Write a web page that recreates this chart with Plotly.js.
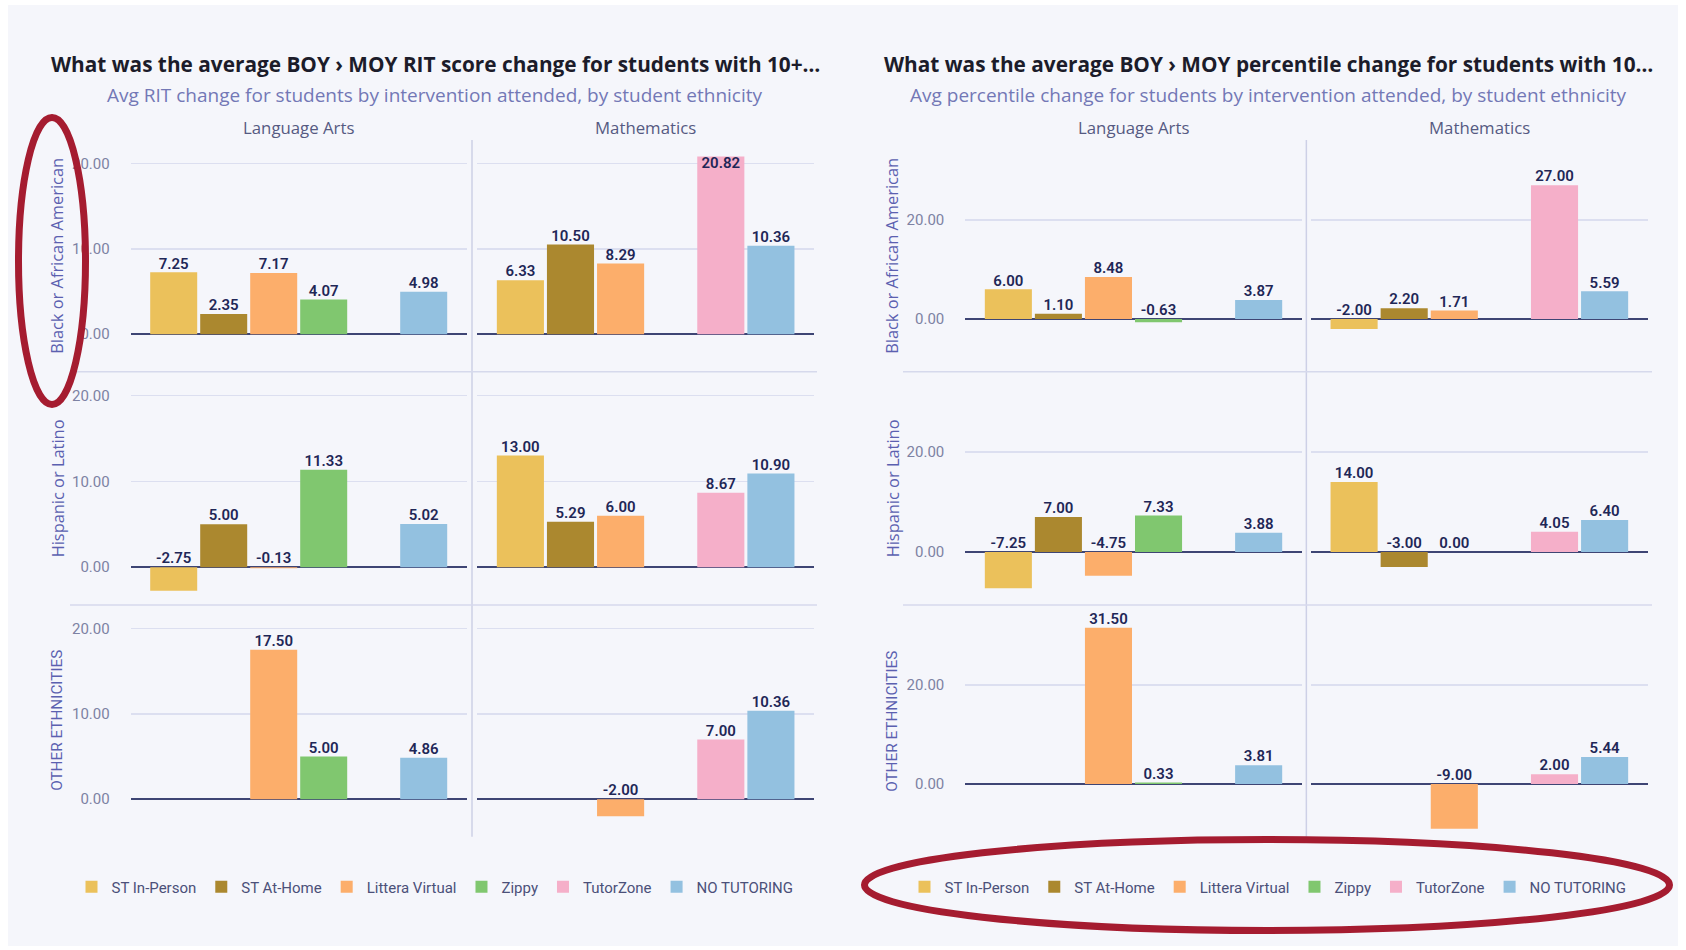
<!DOCTYPE html>
<html><head><meta charset="utf-8">
<script src="https://cdn.plot.ly/plotly-3.0.1.min.js"></script>
<style>html,body{margin:0;padding:0;background:#fff;}#chart{width:1686px;height:950px;}</style>
</head><body><div id="chart"></div>
<script>
// ---------- data ----------
const interventions = ['ST In-Person','ST At-Home','Littera Virtual','Zippy','TutorZone','NO TUTORING'];
const barColors = ['#EBC15B','#AB882F','#FCAE6B','#80C76F','#F5AFC9','#93C1E0'];
const subjects = ['Language Arts','Mathematics'];
const ethnicities = ['Black or African American','Hispanic or Latino','OTHER ETHNICITIES'];

const chartTitles = ['What was the average BOY \u203A MOY RIT score change for students with 10+\u2026',
                     'What was the average BOY \u203A MOY percentile change for students with 10\u2026'];
const chartSubtitles = ['Avg RIT change for students by intervention attended, by student ethnicity',
                        'Avg percentile change for students by intervention attended, by student ethnicity'];

// Avg RIT change
const ritLangBlack    = [7.25, 2.35, 7.17, 4.07, null, 4.98];
const ritLangHispanic = [-2.75, 5.00, -0.13, 11.33, null, 5.02];
const ritLangOther    = [null, null, 17.50, 5.00, null, 4.86];
const ritMathBlack    = [6.33, 10.50, 8.29, null, 20.82, 10.36];
const ritMathHispanic = [13.00, 5.29, 6.00, null, 8.67, 10.90];
const ritMathOther    = [null, null, -2.00, null, 7.00, 10.36];

// Avg percentile change
const pctLangBlack    = [6.00, 1.10, 8.48, -0.63, null, 3.87];
const pctLangHispanic = [-7.25, 7.00, -4.75, 7.33, null, 3.88];
const pctLangOther    = [null, null, 31.50, 0.33, null, 3.81];
const pctMathBlack    = [-2.00, 2.20, 1.71, null, 27.00, 5.59];
const pctMathHispanic = [14.00, -3.00, 0.00, null, 4.05, 6.40];
const pctMathOther    = [null, null, -9.00, null, 2.00, 5.44];

const chartData = [
  [[ritLangBlack, ritMathBlack], [ritLangHispanic, ritMathHispanic], [ritLangOther, ritMathOther]],
  [[pctLangBlack, pctMathBlack], [pctLangHispanic, pctMathHispanic], [pctLangOther, pctMathOther]]
];

// ---------- layout geometry (pixels) ----------
const W = 1686, H = 950;
const px = p => p / W;
const py = p => 1 - p / H;
const colPx = [[[130.7,466.7],[477.3,814]], [[965.3,1301.7],[1311,1647.7]]];
const rowPx = [[140,371.7],[371.7,605],[605,836.7]];
const yRanges = [[-4.4, 22.75], [-10.6, 36.1]];
const yDticks = [10, 20];
const cardCenter = [435, 1268];
const rowTitleX = [57, 892];

const navy = '#1F2757';
const traces = [];
const layout = {
  width: W, height: H,
  margin: {l:0, r:0, t:0, b:0},
  paper_bgcolor: '#ffffff',
  plot_bgcolor: 'rgba(0,0,0,0)',
  barmode: 'overlay',
  showlegend: true,
  hovermode: false,
  annotations: [], shapes: []
};

for (let c = 0; c < 2; c++) {
  const legendShown = new Array(6).fill(false);
  for (let r = 0; r < 3; r++) {
    for (let s = 0; s < 2; s++) {
      const k = c*6 + r*2 + s + 1;
      const xa = k === 1 ? 'x' : 'x' + k;
      const ya = k === 1 ? 'y' : 'y' + k;
      const vals = chartData[c][r][s];
      const [y0, y1] = yRanges[c];
      for (let i = 0; i < 6; i++) {
        const show = !legendShown[i] && vals[i] !== null;
        if (show) legendShown[i] = true;
        traces.push({
          type: 'bar', x: [interventions[i]], y: [vals[i]],
          xaxis: xa, yaxis: ya, width: [0.94],
          name: interventions[i], marker: {color: barColors[i], line: {width: 0}},
          legend: c === 0 ? 'legend' : 'legend2',
          legendgroup: 'g' + c + '-' + i, legendrank: i + 1,
          showlegend: show
        });
      }
      traces.push({
        type: 'scatter', mode: 'text', xaxis: xa, yaxis: ya,
        x: interventions,
        y: vals.map(v => v === null ? null : Math.max(v, 0)),
        text: vals.map(v => v === null ? '' : v.toFixed(2)),
        textposition: vals.map(v => (v !== null && (y1 - v) / (y1 - y0) < 0.09) ? 'bottom center' : 'top center'),
        textfont: {family: 'Roboto', size: 15, color: navy, weight: 600},
        cliponaxis: false, showlegend: false, hoverinfo: 'skip'
      });
      const xd = colPx[c][s], yd = rowPx[r];
      layout['xaxis' + (k === 1 ? '' : k)] = {
        domain: [px(xd[0]), px(xd[1])], anchor: ya,
        type: 'category', categoryorder: 'array', categoryarray: interventions,
        range: [-0.86, 5.86], showticklabels: false, showgrid: false,
        zeroline: false, showline: false, ticks: '', fixedrange: true
      };
      layout['yaxis' + (k === 1 ? '' : k)] = {
        domain: [py(yd[1]), py(yd[0])], anchor: xa,
        range: yRanges[c], dtick: yDticks[c], tick0: 0, tickformat: '.2f',
        showgrid: true, gridcolor: '#DCDFF0', gridwidth: 1.5,
        zeroline: true, zerolinecolor: '#3E4574', zerolinewidth: 2,
        showline: false, ticks: '', showticklabels: s === 0,
        ticklabelstandoff: 20,
        tickfont: {family: 'Roboto', size: 15, color: '#7D82A3'}, fixedrange: true
      };
    }
  }
}

// card background
layout.shapes.push({type:'rect', xref:'paper', yref:'paper', layer:'below',
  x0: px(8), x1: px(1678), y0: py(946), y1: py(5), fillcolor:'#F5F6FB', line:{width:0}});

for (let c = 0; c < 2; c++) {
  const cols = colPx[c];
  // vertical divider between subjects
  const dx = (cols[0][1] + cols[1][0]) / 2;
  layout.shapes.push({type:'line', xref:'paper', yref:'paper', layer:'below',
    x0: px(dx), x1: px(dx), y0: py(836.7), y1: py(140), line:{color:'#CDD0E6', width:1.5}});
  // row separators
  const sx0 = c === 0 ? 70 : 903, sx1 = c === 0 ? 817 : 1652;
  [371.7, 605].forEach(yy => layout.shapes.push({type:'line', xref:'paper', yref:'paper', layer:'below',
    x0: px(sx0), x1: px(sx1), y0: py(yy), y1: py(yy), line:{color:'#D6D9EC', width:1.5}}));
  // titles
  layout.annotations.push({xref:'paper', yref:'paper', x: px(cardCenter[c]), y: py(63.5),
    xanchor:'center', yanchor:'middle', showarrow:false, text: chartTitles[c],
    font:{family:'Open Sans', size:20.8, color:'#1C1C2A', weight:700}});
  layout.annotations.push({xref:'paper', yref:'paper', x: px(cardCenter[c]), y: py(94.6),
    xanchor:'center', yanchor:'middle', showarrow:false, text: chartSubtitles[c],
    font:{family:'Open Sans', size:19, color:'#7378B6'}});
  // subject headers
  for (let s = 0; s < 2; s++) {
    layout.annotations.push({xref:'paper', yref:'paper', x: px((cols[s][0]+cols[s][1])/2), y: py(127),
      xanchor:'center', yanchor:'middle', showarrow:false, text: subjects[s],
      font:{family:'Open Sans', size:16.8, color:'#555A82'}});
  }
  // row titles
  for (let r = 0; r < 3; r++) {
    layout.annotations.push({xref:'paper', yref:'paper', x: px(rowTitleX[c]), y: py((rowPx[r][0]+rowPx[r][1])/2),
      xanchor:'center', yanchor:'middle', showarrow:false, textangle:-90, text: ethnicities[r],
      font:{family: r === 2 ? 'Roboto' : 'Open Sans', size: r === 2 ? 15.3 : 16.4, color:'#5B60B0'}});
  }
}

// legends
const legendBase = {orientation:'h', xanchor:'center', yanchor:'middle', y: py(887),
  bgcolor:'rgba(0,0,0,0)', font:{family:'Roboto', size:15, color:'#4B5079'}, traceorder:'normal'};
layout.legend = Object.assign({}, legendBase, {x: px(cardCenter[0])});
layout.legend2 = Object.assign({}, legendBase, {x: px(cardCenter[1])});

// highlight ellipses
layout.shapes.push({type:'circle', xref:'paper', yref:'paper', layer:'above',
  x0: px(18.5), x1: px(85.5), y0: py(404.5), y1: py(117.5), line:{color:'#A51C30', width:7}});
layout.shapes.push({type:'circle', xref:'paper', yref:'paper', layer:'above',
  x0: px(864.5), x1: px(1669.5), y0: py(930.5), y1: py(839.5), line:{color:'#A51C30', width:7}});

Plotly.newPlot('chart', traces, layout, {displayModeBar:false, staticPlot:true});
</script></body></html>
